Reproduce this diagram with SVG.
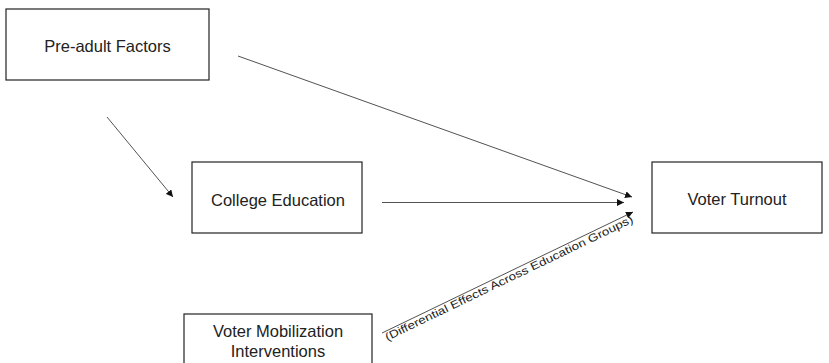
<svg xmlns="http://www.w3.org/2000/svg" width="829" height="363" viewBox="0 0 829 363">
<defs>
<style>
.box{fill:#fff;stroke:#222;stroke-width:1.2}
.lbl{font-family:"Liberation Sans",Arial,sans-serif;font-size:16.5px;fill:#222;text-anchor:middle}
.edge{stroke:#333;stroke-width:0.85;fill:none;marker-end:url(#ah)}
.elbl{font-family:"Liberation Sans",Arial,sans-serif;font-size:11px;fill:#222;text-anchor:middle}
</style>
<marker id="ah" viewBox="0 0 10 10" refX="10" refY="5" markerWidth="7" markerHeight="7" markerUnits="userSpaceOnUse" orient="auto">
<path d="M0,0 L10,5 L0,10 z" fill="#111"/>
</marker>
</defs>
<rect width="829" height="363" fill="#fff"/>
<g id="connectors">
<line class="edge" x1="238" y1="56" x2="632" y2="197"/>
<line class="edge" x1="107" y1="117" x2="173" y2="197"/>
<line class="edge" x1="382" y1="202.5" x2="624" y2="202.5"/>
<line class="edge" x1="382" y1="333" x2="633" y2="212"/>
<text class="elbl" transform="translate(506,272) rotate(-25.74)" x="0" y="10.5" textLength="274" lengthAdjust="spacingAndGlyphs">(Differential Effects Across Education Groups)</text>
</g>
<g id="preadult">
<rect class="box" x="6" y="9" width="203" height="71"/>
<text class="lbl" x="107.5" y="52">Pre-adult Factors</text>
</g>
<g id="college">
<rect class="box" x="192" y="162" width="170" height="71"/>
<text class="lbl" x="278" y="206">College Education</text>
</g>
<g id="turnout">
<rect class="box" x="652" y="162" width="170" height="71"/>
<text class="lbl" x="737" y="205">Voter Turnout</text>
</g>
<g id="mobilization">
<rect class="box" x="184" y="314" width="188" height="60"/>
<text class="lbl" x="278" y="337">Voter Mobilization</text>
<text class="lbl" x="278" y="357">Interventions</text>
</g>
</svg>
